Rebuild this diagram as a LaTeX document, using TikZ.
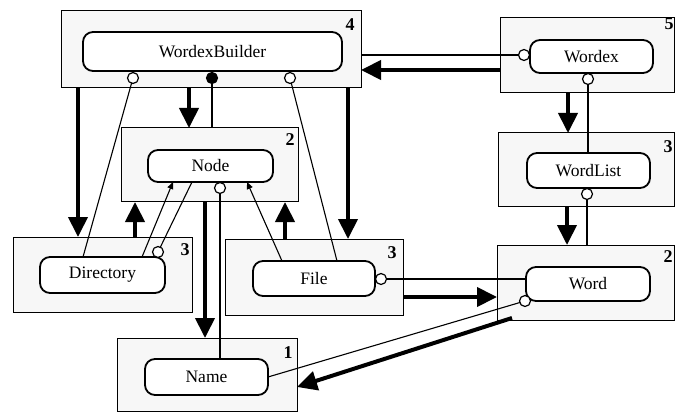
\documentclass[tikz,border=0pt]{standalone}
\usepackage{fontspec}
\setmainfont{Liberation Serif}
\usetikzlibrary{arrows.meta}
\begin{document}
\begin{tikzpicture}[x=1pt,y=-1pt,
 outerbox/.style={draw, line width=1pt, fill=black!3, inner sep=0pt, outer sep=0pt},
 classbox/.style={draw, line width=1.8pt, rounded corners=10pt, fill=white, inner sep=0pt, outer sep=0pt, font=\fontsize{17.5}{20}\selectfont},
 knob/.style={circle, draw, line width=1.2pt, fill=white, minimum size=11pt, inner sep=0pt},
 knobfill/.style={knob, fill=black},
 num/.style={font=\bfseries\fontsize{18}{20}\selectfont, inner sep=0pt},
 conn/.style={line width=1.1pt},
 connarrow/.style={line width=1.1pt, -{Triangle[length=7pt,width=6pt]}},
 heavy/.style={line width=4pt, -{Triangle[length=20pt,width=19pt]}}
]
\useasboundingbox (0,0) rectangle (677,414);
% outer boxes
\node[outerbox, minimum width=300pt, minimum height=77pt] (b4) at (211,49.5) {};
\node[outerbox, minimum width=177pt, minimum height=74pt] (b2) at (209.5,165) {};
\node[outerbox, minimum width=179pt, minimum height=75pt] (b3d) at (102.5,274.5) {};
\node[outerbox, minimum width=178pt, minimum height=76pt] (b3f) at (314,277) {};
\node[outerbox, minimum width=180pt, minimum height=73pt] (b1) at (207,374.5) {};
\node[outerbox, minimum width=174pt, minimum height=75pt] (b5) at (587,55.5) {};
\node[outerbox, minimum width=176pt, minimum height=74pt] (b3w) at (586,170) {};
\node[outerbox, minimum width=177pt, minimum height=75pt] (b2w) at (585.5,282.5) {};
% numbers
\node[num] (n4) at (350,25) {4};
\node[num] (n2) at (290,140) {2};
\node[num] (n3d) at (185,250) {3};
\node[num] (n3f) at (392,253) {3};
\node[num] (n1) at (288,353) {1};
\node[num] (n5) at (669,24) {5};
\node[num] (n3w) at (668,147) {3};
\node[num] (n2w) at (668,257) {2};
% class boxes
\node[classbox, minimum width=259pt, minimum height=39pt] (wb) at (212.5,51.5) {WordexBuilder};
\node[classbox, minimum width=125pt, minimum height=32pt] (node) at (210.5,166) {Node};
\node[classbox, minimum width=125pt, minimum height=36pt] (dir) at (102.5,275) {Directory};
\node[classbox, minimum width=122pt, minimum height=35pt] (file) at (314,278.5) {File};
\node[classbox, minimum width=123pt, minimum height=36pt] (name) at (206.5,377) {Name};
\node[classbox, minimum width=123pt, minimum height=33pt] (wordex) at (591.5,56.5) {Wordex};
\node[classbox, minimum width=123pt, minimum height=35pt] (wordlist) at (588.5,170.5) {WordList};
\node[classbox, minimum width=124pt, minimum height=34pt] (word) at (588,284) {Word};
% knob positions
\coordinate (pwa) at (133,78);
\coordinate (pwb) at (212,78);
\coordinate (pwc) at (290,78);
\coordinate (pnode) at (220,188);
\coordinate (pdir) at (158,252);
\coordinate (pfile) at (381,279);
\coordinate (pwx1) at (524,55);
\coordinate (pwx2) at (588,79);
\coordinate (pwl) at (587,194);
\coordinate (pword) at (525,301);
\coordinate (wc) at (512,318);
% connectors
\draw[heavy] (b4.south -| 78,0) -- (b3d.north -| 78,0);
\draw[heavy] (b4.south -| 348,0) -- (b3f.north -| 348,0);
\draw[heavy] (b4.south -| 189,0) -- (b2.north -| 189,0);
\draw[conn] (pwb) -- (b2.north -| pwb);
\draw[conn] (pwa) -- (dir.north -| 83,0);
\draw[conn] (pwc) -- (file.north -| 337,0);
\draw[heavy] (b3d.north -| 135,0) -- (b2.south -| 135,0);
\draw[heavy] (b3f.north -| 285,0) -- (b2.south -| 285,0);
\draw[connarrow] (dir.north -| 142,0) -- (node.south -| 173,0);
\draw[conn] (pdir) -- (node.south -| 192,0);
\draw[connarrow] (file.north -| 282,0) -- (node.south -| 247,0);
\draw[heavy] (b2.south -| 205,0) -- (b1.north -| 205,0);
\draw[conn] (pnode) -- (name.north -| pnode);
\draw[conn] (pwx1) -- (b4.east |- pwx1);
\draw[heavy] (b5.west |- 0,70) -- (b4.east |- 0,70);
\draw[heavy] (b5.south -| 568,0) -- (b3w.north -| 568,0);
\draw[conn] (pwx2) -- (wordlist.north -| pwx2);
\draw[heavy] (b3w.south -| 567,0) -- (b2w.north -| 567,0);
\draw[conn] (pwl) -- (b2w.north -| pwl);
\draw[conn] (pfile) -- (word.west |- pfile);
\draw[heavy] (b3f.east |- 0,297) -- (b2w.west |- 0,297);
\draw[conn] (pword) -- (name.east);
\draw[heavy] (wc) -- (b1.east |- 0,387);
% knobs
\node[knob] (cwa) at (pwa) {};
\node[knobfill] (cwb) at (pwb) {};
\node[knob] (cwc) at (pwc) {};
\node[knob] (cnode) at (pnode) {};
\node[knob] (cdir) at (pdir) {};
\node[knob] (cfile) at (pfile) {};
\node[knob] (cwx1) at (pwx1) {};
\node[knob] (cwx2) at (pwx2) {};
\node[knob] (cwl) at (pwl) {};
\node[knob] (cword) at (pword) {};
\end{tikzpicture}
\end{document}
